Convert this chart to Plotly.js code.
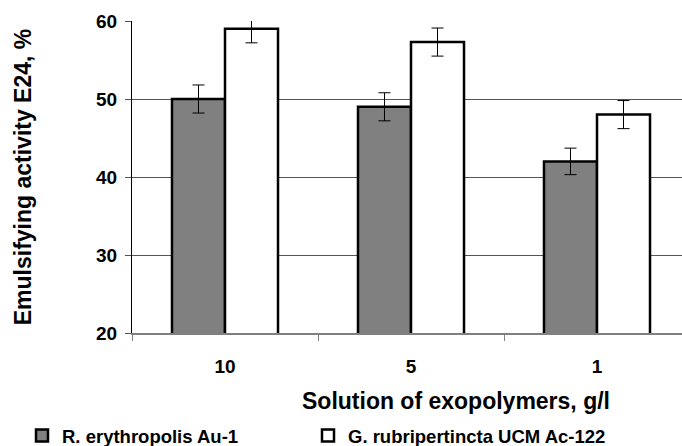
<!DOCTYPE html>
<html>
<head>
<meta charset="utf-8">
<script src="https://cdn.plot.ly/plotly-3.0.1.min.js"></script>
<style>html,body{margin:0;padding:0;background:#fff;overflow:hidden;}#chart{width:682px;height:446px;}</style>
</head>
<body>
<div id="chart"></div>
<script>
var categories = ['10', '5', '1'];
var seriesNames = ['R. erythropolis Au-1', 'G. rubripertincta UCM Ac-122'];
var rErythropolis = [50, 49, 42];
var rErythropolisErr = [1.8, 1.8, 1.7];
var gRubripertincta = [59, 57.3, 48];
var gRubripertinctaErr = [1.8, 1.8, 1.8];
var yTicks = [20, 30, 40, 50, 60];

var font = '"Liberation Sans", Arial, sans-serif';

var traces = [
  {
    type: 'bar', name: seriesNames[0], x: categories, y: rErythropolis, legend: 'legend',
    marker: {color: '#808080', line: {color: '#000', width: 2.5}},
    error_y: {type: 'data', array: rErythropolisErr, visible: true, color: '#000', thickness: 1, width: 6}
  },
  {
    type: 'bar', name: seriesNames[1], x: categories, y: gRubripertincta, legend: 'legend2',
    marker: {color: '#ffffff', line: {color: '#000', width: 2.5}},
    error_y: {type: 'data', array: gRubripertinctaErr, visible: true, color: '#000', thickness: 1, width: 6}
  }
];

var legendFont = {family: font, size: 18.5, color: '#000', weight: 'bold'};
var legendY = (333 - 436) / 312;

var layout = {
  width: 682, height: 446,
  margin: {l: 132, r: 0, t: 21, b: 113, autoexpand: false},
  paper_bgcolor: '#fff', plot_bgcolor: '#fff',
  barmode: 'group', bargap: 0.43, bargroupgap: 0,
  showlegend: true,
  legend: {
    orientation: 'h', x: (22 - 132) / 550, xanchor: 'left', y: legendY, yanchor: 'middle',
    font: legendFont, itemclick: false, bgcolor: 'rgba(0,0,0,0)', borderwidth: 0
  },
  legend2: {
    orientation: 'h', x: (308 - 132) / 550, xanchor: 'left', y: legendY, yanchor: 'middle',
    font: legendFont, itemclick: false, bgcolor: 'rgba(0,0,0,0)', borderwidth: 0
  },
  xaxis: {
    type: 'category', range: [-0.5, 2.457], fixedrange: true,
    tickson: 'boundaries', ticks: 'outside', ticklen: 6, tickcolor: '#808080', tickwidth: 1,
    showline: true, linecolor: '#808080', linewidth: 1.5, showgrid: false,
    tickfont: {family: font, size: 19, color: '#000', weight: 'bold'},
    ticklabelstandoff: 16
  },
  yaxis: {
    range: [20, 60], tickvals: yTicks, ticktext: yTicks.map(String), fixedrange: true,
    ticks: 'outside', ticklen: 6, tickcolor: '#555', showline: true, linecolor: '#000', linewidth: 1,
    showgrid: true, gridcolor: '#555', gridwidth: 1, zeroline: false,
    tickfont: {family: font, size: 19, color: '#000', weight: 'bold'},
    ticklabelstandoff: 4,
    title: {text: 'Emulsifying activity E24, %', font: {family: font, size: 23, color: '#000', weight: 'bold'}, standoff: 58}
  },
  annotations: [
    {text: 'Solution of exopolymers, g/l', xref: 'paper', yref: 'paper', x: (456 - 132) / 550, y: (333 - 401) / 312,
     xanchor: 'center', yanchor: 'middle', showarrow: false,
     font: {family: font, size: 23, color: '#000', weight: 'bold'}}
  ]
};

Plotly.newPlot('chart', traces, layout, {displayModeBar: false, staticPlot: true});
</script>
</body>
</html>
